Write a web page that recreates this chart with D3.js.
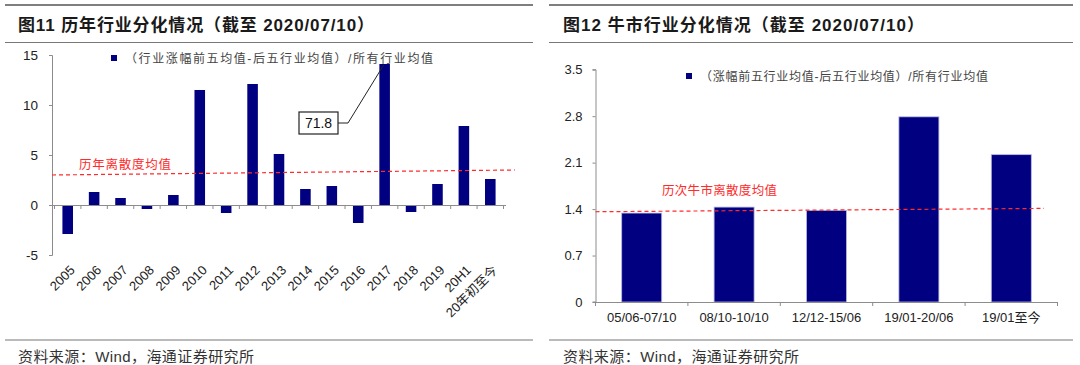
<!DOCTYPE html>
<html><head><meta charset="utf-8">
<script src="https://cdn.jsdelivr.net/npm/d3@7"></script>
<style>
body{margin:0;background:#fff;}
text{font-family:"Liberation Sans","Noto Sans CJK SC",sans-serif;}
</style></head>
<body><svg id="c" width="1080" height="365"></svg>
<script>
// ---- Data: chart 1 ----
const years = ["2005","2006","2007","2008","2009","2010","2011","2012","2013","2014","2015","2016","2017","2018","2019","20H1","20年初至今"];
const dispersion = [-2.9,1.3,0.7,-0.4,1.0,11.5,-0.8,12.1,5.1,1.6,1.9,-1.8,71.8,-0.7,2.1,7.9,2.6];
const displayCap1 = 14.1;           // 2017 bar drawn truncated
const yTicks1 = [-5,0,5,10,15];
const avgLine1 = [3.0, 3.5];        // dashed line start / end value
const title1 = "图11 历年行业分化情况（截至 2020/07/10）";
const legend1 = "（行业涨幅前五均值-后五行业均值）/所有行业均值";
const avgLabel1 = "历年离散度均值";
const calloutLabel = "71.8";

// ---- Data: chart 2 ----
const periods = ["05/06-07/10","08/10-10/10","12/12-15/06","19/01-20/06","19/01至今"];
const bullDispersion = [1.34,1.43,1.38,2.79,2.22];
const yTicks2 = [0,0.7,1.4,2.1,2.8,3.5];
const avgLine2 = [1.36, 1.41];
const title2 = "图12  牛市行业分化情况（截至 2020/07/10）";
const legend2 = "（涨幅前五行业均值-后五行业均值）/所有行业均值";
const avgLabel2 = "历次牛市离散度均值";
const source = "资料来源：Wind，海通证券研究所";

const svg = d3.select("#c");
const NAVY = "#000080", AX = "#8c8c8c", RED = "#ff2a2a";

function fitText(sel, len){ return sel.attr("textLength",len).attr("lengthAdjust","spacing"); }

function frame(x0, x1, titleX, title, titleLen){
  svg.append("line").attr("x1",x0).attr("x2",x1).attr("y1",5).attr("y2",5).attr("stroke","#555").attr("stroke-width",1.5);
  svg.append("line").attr("x1",x0).attr("x2",x1).attr("y1",42.5).attr("y2",42.5).attr("stroke","#777").attr("stroke-width",1);
  svg.append("line").attr("x1",x0).attr("x2",x1).attr("y1",340).attr("y2",340).attr("stroke","#777").attr("stroke-width",1);
  fitText(svg.append("text").attr("x",titleX).attr("y",31).attr("font-size",17).attr("font-weight","bold").attr("fill","#1a1a1a").text(title), titleLen);
  fitText(svg.append("text").attr("x",titleX).attr("y",362).attr("font-size",15).attr("fill","#333").text(source), 236);
}
const fmtTick = f => d => f(d).replace("\u2212","-");

// ---------- Chart 1 ----------
frame(5, 533, 18, title1, 356);
const x1 = d3.scaleBand().domain(years).range([54.5,503.5]).paddingInner(0.6).paddingOuter(0.3);
const y1 = d3.scaleLinear().domain([-5,15]).range([255,55]);
const g1 = svg.append("g");
g1.append("g").attr("transform","translate(52,0)")
  .call(d3.axisLeft(y1).tickValues(yTicks1).tickSize(3).tickPadding(11).tickFormat(fmtTick(d3.format("d"))))
  .call(g=>{g.selectAll("path,line").attr("stroke",AX);g.selectAll("text").attr("font-size",13.5).attr("fill","#222");g.select(".domain").attr("d","M-3,255.5H0.5V55.5H-3");});
g1.selectAll("rect.b").data(years).join("rect")
  .attr("x",d=>x1(d)).attr("width",x1.bandwidth())
  .attr("y",(d,i)=>y1(Math.max(0,Math.min(dispersion[i],displayCap1))))
  .attr("height",(d,i)=>Math.abs(y1(Math.min(dispersion[i],displayCap1))-y1(0)))
  .attr("fill",NAVY);
const xa1 = g1.append("g");
xa1.append("line").attr("x1",52).attr("x2",506).attr("y1",y1(0)+0.5).attr("y2",y1(0)+0.5).attr("stroke",AX);
const bounds1 = years.map(d=>x1(d)-x1.step()*x1.paddingInner()/2).concat([x1.range()[1]]);
xa1.selectAll("line.t").data(bounds1).join("line").attr("x1",d=>d).attr("x2",d=>d).attr("y1",y1(0)).attr("y2",y1(0)+4).attr("stroke",AX);
g1.selectAll("text.xl").data(years).join("text")
  .attr("text-anchor","end").attr("font-size",13).attr("fill","#222")
  .attr("transform",d=>`translate(${x1(d)+x1.bandwidth()/2+8},${271}) rotate(-45)`)
  .text(d=>d);
g1.append("line").attr("x1",52).attr("x2",515).attr("y1",y1(avgLine1[0])).attr("y2",y1(avgLine1[1]))
  .attr("stroke",RED).attr("stroke-width",1.2).attr("stroke-dasharray","4,3");
fitText(g1.append("text").attr("x",79).attr("y",169).attr("font-size",12.5).attr("fill",RED).text(avgLabel1), 92);
g1.append("rect").attr("x",111).attr("y",55).attr("width",6).attr("height",6).attr("fill",NAVY);
fitText(g1.append("text").attr("x",125).attr("y",62.5).attr("font-size",12).attr("fill","#444").text(legend1), 308);
const i17 = years.indexOf("2017");
const topX = x1(years[i17]) + x1.bandwidth()/2 - 1, topY = y1(displayCap1) + 1;
g1.append("polyline").attr("points",`338,123 348,123 ${topX},${topY}`).attr("fill","none").attr("stroke","#222").attr("stroke-width",1);
g1.append("rect").attr("x",299).attr("y",112).attr("width",39).attr("height",22).attr("fill","#fff").attr("stroke","#222").attr("stroke-width",1.2);
g1.append("text").attr("x",318.5).attr("y",128).attr("text-anchor","middle").attr("font-size",14).attr("fill","#111").text(calloutLabel);

// ---------- Chart 2 ----------
frame(549, 1073, 563, title2, 361);
const x2 = d3.scaleBand().domain(periods).range([595.5,1057.5]).paddingInner(0.567).paddingOuter(0.2835);
const y2 = d3.scaleLinear().domain([0,3.5]).range([302,69.7]);
const g2 = svg.append("g");
g2.append("g").attr("transform","translate(595.5,0)")
  .call(d3.axisLeft(y2).tickValues(yTicks2).tickSize(3).tickPadding(10).tickFormat(d=>d===0?"0":d3.format(".1f")(d)))
  .call(g=>{g.selectAll("path,line").attr("stroke",AX);g.selectAll("text").attr("font-size",13).attr("fill","#222");g.select(".domain").attr("d",`M-3,${y2(0)}H0.5V${y2(3.5)}H-3`);});
g2.selectAll("rect.b").data(periods).join("rect")
  .attr("x",d=>x2(d)).attr("width",x2.bandwidth())
  .attr("y",(d,i)=>y2(bullDispersion[i])).attr("height",(d,i)=>y2(0)-y2(bullDispersion[i]))
  .attr("fill",NAVY).attr("stroke","#b8b8e0").attr("stroke-width",0.8);
g2.append("line").attr("x1",595.5).attr("x2",1057.5).attr("y1",y2(0)+0.5).attr("y2",y2(0)+0.5).attr("stroke",AX);
const bounds2 = periods.map(d=>x2(d)-x2.step()*x2.paddingInner()/2).concat([x2.range()[1]]);
g2.selectAll("line.t").data(bounds2).join("line").attr("x1",d=>d).attr("x2",d=>d).attr("y1",y2(0)).attr("y2",y2(0)+4).attr("stroke",AX);
g2.selectAll("text.xl").data(periods).join("text")
  .attr("x",d=>x2(d)+x2.bandwidth()/2).attr("y",322).attr("text-anchor","middle")
  .attr("font-size",13).attr("fill","#222").text(d=>d);
g2.append("line").attr("x1",595.5).attr("x2",1044).attr("y1",y2(avgLine2[0])).attr("y2",y2(avgLine2[1]))
  .attr("stroke",RED).attr("stroke-width",1.2).attr("stroke-dasharray","4,3");
fitText(g2.append("text").attr("x",662).attr("y",195).attr("font-size",12.5).attr("fill",RED).text(avgLabel2), 115);
g2.append("rect").attr("x",686).attr("y",73).attr("width",6).attr("height",6).attr("fill",NAVY);
fitText(g2.append("text").attr("x",700).attr("y",80.5).attr("font-size",12).attr("fill","#444").text(legend2), 288);
</script></body></html>
